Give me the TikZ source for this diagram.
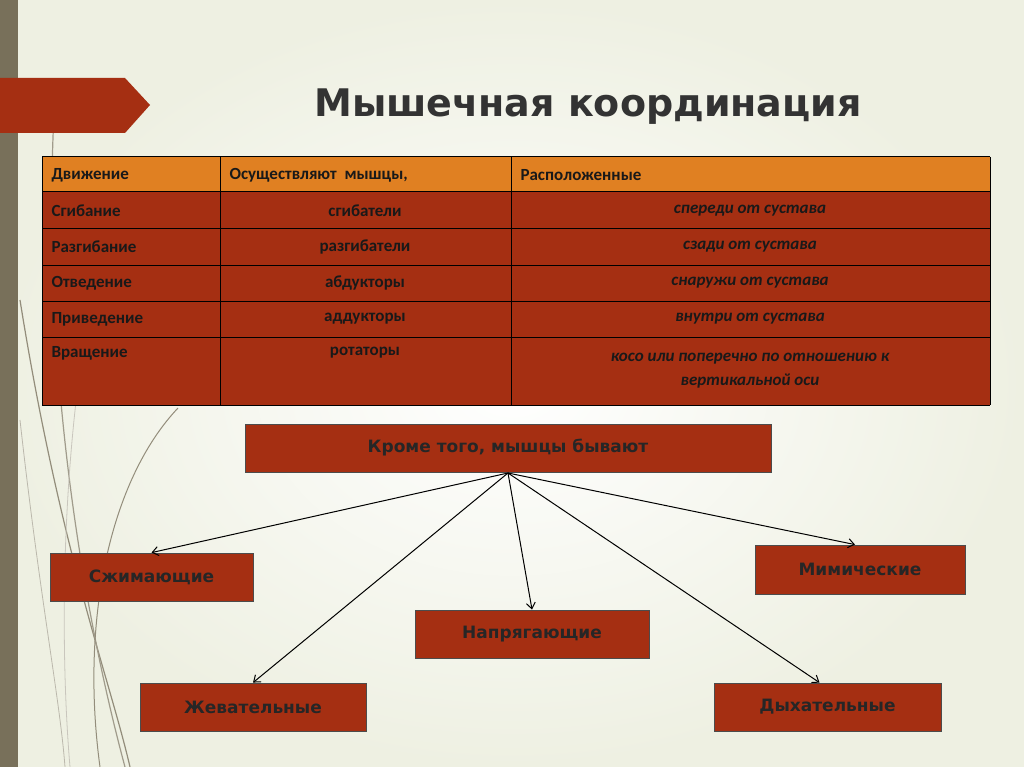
\documentclass[tikz,border=0pt]{standalone}
\usepackage{fontspec}
\usetikzlibrary{arrows.meta}
\setmainfont{Carlito}
\newfontfamily\boxfont{DejaVu Sans}
\begin{document}
\begin{tikzpicture}[x=1pt,y=-1pt,
  redbox/.style={draw=black!70,fill=myred,line width=0.8pt},
  cell/.style={draw=black,line width=1pt},
  boxlbl/.style={font=\boxfont\bfseries\fontsize{17}{20}\selectfont,text=black!85},
  tl/.style={font=\bfseries\fontsize{17}{20}\selectfont,text=black!90,anchor=west},
  tc/.style={font=\bfseries\fontsize{17}{20}\selectfont,text=black!90},
  ti/.style={font=\bfseries\itshape\fontsize{17}{20}\selectfont,text=black!90},
  arr/.style={-{Straight Barb[length=6pt,width=9pt]},line width=1pt}]
\definecolor{myred}{HTML}{A52F12}
\definecolor{myorange}{HTML}{E08022}
\definecolor{bar}{HTML}{78705A}
\definecolor{bg}{HTML}{EEF0E2}
\useasboundingbox (0,0) rectangle (1024,767);
\shade[inner color=white,outer color=bg] (0,0) rectangle (1024,767);
\fill[bar] (0,0) rectangle (18,767);
% decorative curves
\draw[bar!80,line width=1.2pt] (20,300) .. controls (60,550) and (110,680) .. (130,767);
\draw[bar!70,line width=1.2pt] (55,95) .. controls (40,350) and (80,600) .. (125,767);
\draw[bar!50,line width=0.8pt] (20,420) .. controls (40,600) and (60,700) .. (65,767);
\draw[bar!40,line width=0.8pt] (95,280) .. controls (60,450) and (60,650) .. (70,767);
\draw[bar!80,line width=1pt] (178,408) .. controls (110,480) and (80,620) .. (100,767);
\fill[myred] (0,78) -- (125,78) -- (150,105) -- (125,133) -- (0,133) -- cycle;
\node[font=\boxfont\bfseries\fontsize{38}{44}\selectfont,text=black!80] (title) at (588,107) {Мышечная координация};
% table
\fill[myorange] (42,157) rectangle (990,192);
\fill[myred] (42,192) rectangle (990,405);
\foreach \y in {157,192,229,265,301,337,405} \draw[cell] (42,\y) -- (990,\y);
\foreach \x in {42,220,511,990} \draw[cell] (\x,157) -- (\x,405);
\node[tl] (h1) at (48,175) {Движение};
\node[tl] (h2) at (226,175) {Осуществляют\ \ мышцы,};
\node[tl] (h3) at (517,175) {Расположенные};
\foreach \y/\a/\b/\c [count=\i] in {211/Сгибание/сгибатели/спереди от сустава,
  247/Разгибание/разгибатели/сзади от сустава,
  283/Отведение/абдукторы/снаружи от сустава,
  319/Приведение/аддукторы/внутри от сустава}{
  \node[tl] (r\i a) at (48,\y) {\a};
  \node[tc] (r\i b) at (365,\y) {\b};
  \node[ti] (r\i c) at (750,\y) {\c};}
\node[tl] (r5a) at (48,353) {Вращение};
\node[tc] (r5b) at (365,353) {ротаторы};
\node[ti,align=center] (r5c) at (750,371) {косо или поперечно по отношению к\\[4pt]вертикальной оси};
% boxes
\node[redbox,boxlbl,minimum width=526pt,minimum height=48pt] (top) at (508,448) {Кроме того, мышцы бывают};
\node[redbox,boxlbl,minimum width=203pt,minimum height=48pt] (b1) at (151.5,577) {Сжимающие};
\node[redbox,boxlbl,minimum width=210pt,minimum height=49pt] (b2) at (860,569.5) {Мимические};
\node[redbox,boxlbl,minimum width=234pt,minimum height=48pt] (b3) at (532,634) {Напрягающие};
\node[redbox,boxlbl,minimum width=226pt,minimum height=48pt] (b4) at (253,707) {Жевательные};
\node[redbox,boxlbl,minimum width=227pt,minimum height=48pt] (b5) at (827.5,707) {Дыхательные};
\coordinate (o) at (508,473);
\draw[arr] (o) -- (b1.north);
\draw[arr] (o) -- ([xshift=-5pt]b2.north);
\draw[arr] (o) -- (b3.north);
\draw[arr] (o) -- (b4.north);
\draw[arr] (o) -- ([xshift=-8pt]b5.north);
\end{tikzpicture}
\end{document}
